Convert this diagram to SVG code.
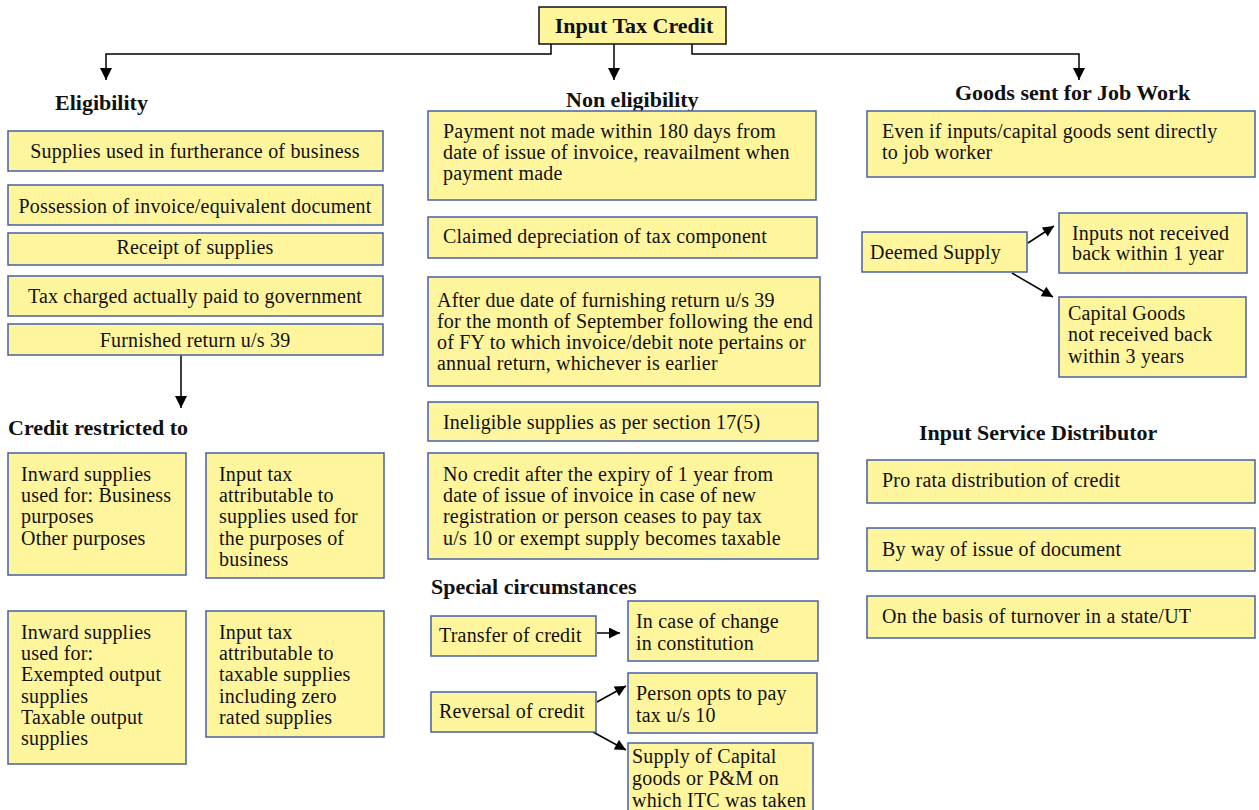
<svg xmlns="http://www.w3.org/2000/svg" width="1259" height="810" viewBox="0 0 1259 810">
  <defs>
    <marker id="arrow" viewBox="0 0 10 10" refX="10" refY="5" markerWidth="13" markerHeight="11" markerUnits="userSpaceOnUse" orient="auto">
      <path d="M0,0 L10,5 L0,10 Z" fill="#000"/>
    </marker>
    <marker id="arrowBig" viewBox="0 0 10 10" refX="10" refY="5" markerWidth="14" markerHeight="12" markerUnits="userSpaceOnUse" orient="auto">
      <path d="M0,0 L10,5 L0,10 Z" fill="#000"/>
    </marker>
  </defs>
  <style>
    .box { fill: #fff59d; stroke: #4660a6; stroke-width: 1.5; }
    .t { font-family: "Liberation Serif", "DejaVu Serif", serif; font-size: 20px; letter-spacing: 0.2px; fill: #111; }
    .c { text-anchor: middle; }
    .h { font-family: "Liberation Serif", "DejaVu Serif", serif; font-size: 22px; font-weight: bold; fill: #111; }
    .ln { fill: none; stroke: #000; stroke-width: 1.5; }
  </style>
  <rect width="1259" height="810" fill="#fff"/>

  <!-- connectors -->
  <g id="connectors">
    <polyline class="ln" points="551,44 551,54 106,54 106,80" marker-end="url(#arrowBig)"/>
    <line class="ln" x1="614" y1="44" x2="614" y2="80" marker-end="url(#arrowBig)"/>
    <polyline class="ln" points="692,44 692,54 1079,54 1079,80" marker-end="url(#arrowBig)"/>
    <line class="ln" x1="181" y1="355" x2="181" y2="408" marker-end="url(#arrowBig)"/>
    <line class="ln" x1="1028" y1="243" x2="1054" y2="226" marker-end="url(#arrow)"/>
    <line class="ln" x1="1012" y1="273" x2="1053" y2="297" marker-end="url(#arrow)"/>
    <line class="ln" x1="597" y1="633" x2="620" y2="633" marker-end="url(#arrow)"/>
    <line class="ln" x1="597" y1="702" x2="626" y2="686" marker-end="url(#arrow)"/>
    <line class="ln" x1="593" y1="732" x2="626" y2="750" marker-end="url(#arrow)"/>
  </g>

  <!-- root -->
  <g id="root">
    <rect x="539" y="7" width="187" height="37" fill="#fff59d" stroke="#111" stroke-width="1.5"/>
    <text class="h c" x="634" y="33">Input Tax Credit</text>
  </g>

  <!-- section headings -->
  <g id="headings">
    <text class="h" x="55" y="110">Eligibility</text>
    <text class="h" x="566" y="107">Non eligibility</text>
    <text class="h" x="955" y="100">Goods sent for Job Work</text>
    <text class="h" x="8" y="435">Credit restricted to</text>
    <text class="h" x="431" y="594">Special circumstances</text>
    <text class="h" x="919" y="440">Input Service Distributor</text>
  </g>

  <!-- eligibility -->
  <g id="elig-1"><rect class="box" x="8" y="131" width="375" height="40"/><text class="t c" x="195" y="158">Supplies used in furtherance of business</text></g>
  <g id="elig-2"><rect class="box" x="8" y="185" width="375" height="40"/><text class="t c" x="195" y="213">Possession of invoice/equivalent document</text></g>
  <g id="elig-3"><rect class="box" x="8" y="233" width="375" height="32"/><text class="t c" x="195" y="254">Receipt of supplies</text></g>
  <g id="elig-4"><rect class="box" x="8" y="276" width="375" height="40"/><text class="t c" x="195" y="303">Tax charged actually paid to government</text></g>
  <g id="elig-5"><rect class="box" x="8" y="324" width="375" height="31"/><text class="t c" x="195" y="347">Furnished return u/s 39</text></g>

  <!-- credit restricted -->
  <g id="restrict-1"><rect class="box" x="8" y="453" width="178" height="122"/>
    <text class="t" x="21" y="481">Inward supplies</text>
    <text class="t" x="21" y="502">used for: Business</text>
    <text class="t" x="21" y="523">purposes</text>
    <text class="t" x="21" y="545">Other purposes</text>
  </g>
  <g id="restrict-2"><rect class="box" x="206" y="453" width="178" height="125"/>
    <text class="t" x="219" y="481">Input tax</text>
    <text class="t" x="219" y="502">attributable to</text>
    <text class="t" x="219" y="523">supplies used for</text>
    <text class="t" x="219" y="545">the purposes of</text>
    <text class="t" x="219" y="566">business</text>
  </g>
  <g id="restrict-3"><rect class="box" x="8" y="611" width="178" height="153"/>
    <text class="t" x="21" y="639">Inward supplies</text>
    <text class="t" x="21" y="660">used for:</text>
    <text class="t" x="21" y="681">Exempted output</text>
    <text class="t" x="21" y="703">supplies</text>
    <text class="t" x="21" y="724">Taxable output</text>
    <text class="t" x="21" y="745">supplies</text>
  </g>
  <g id="restrict-4"><rect class="box" x="206" y="611" width="178" height="126"/>
    <text class="t" x="219" y="639">Input tax</text>
    <text class="t" x="219" y="660">attributable to</text>
    <text class="t" x="219" y="681">taxable supplies</text>
    <text class="t" x="219" y="703">including zero</text>
    <text class="t" x="219" y="724">rated supplies</text>
  </g>

  <!-- non eligibility -->
  <g id="nonelig-1"><rect class="box" x="428" y="111" width="388" height="89"/>
    <text class="t" x="443" y="138">Payment not made within 180 days from</text>
    <text class="t" x="443" y="159">date of issue of invoice, reavailment when</text>
    <text class="t" x="443" y="180">payment made</text>
  </g>
  <g id="nonelig-2"><rect class="box" x="428" y="217" width="389" height="41"/>
    <text class="t" x="443" y="243">Claimed depreciation of tax component</text>
  </g>
  <g id="nonelig-3"><rect class="box" x="428" y="277" width="392" height="109"/>
    <text class="t" x="437" y="307">After due date of furnishing return u/s 39</text>
    <text class="t" x="437" y="328">for the month of September following the end</text>
    <text class="t" x="437" y="349">of FY to which invoice/debit note pertains or</text>
    <text class="t" x="437" y="370">annual return, whichever is earlier</text>
  </g>
  <g id="nonelig-4"><rect class="box" x="428" y="402" width="390" height="39"/>
    <text class="t" x="443" y="429">Ineligible supplies as per section 17(5)</text>
  </g>
  <g id="nonelig-5"><rect class="box" x="428" y="453" width="390" height="106"/>
    <text class="t" x="443" y="481">No credit after the expiry of 1 year from</text>
    <text class="t" x="443" y="502">date of issue of invoice in case of new</text>
    <text class="t" x="443" y="523">registration or person ceases to pay tax</text>
    <text class="t" x="443" y="545">u/s 10 or exempt supply becomes taxable</text>
  </g>

  <!-- special circumstances -->
  <g id="transfer"><rect class="box" x="431" y="616" width="165" height="40"/>
    <text class="t" x="439" y="642">Transfer of credit</text>
  </g>
  <g id="constitution"><rect class="box" x="628" y="601" width="190" height="60"/>
    <text class="t" x="636" y="628">In case of change</text>
    <text class="t" x="636" y="650">in constitution</text>
  </g>
  <g id="reversal"><rect class="box" x="431" y="692" width="165" height="40"/>
    <text class="t" x="439" y="718">Reversal of credit</text>
  </g>
  <g id="opts"><rect class="box" x="628" y="673" width="189" height="60"/>
    <text class="t" x="636" y="700">Person opts to pay</text>
    <text class="t" x="636" y="722">tax u/s 10</text>
  </g>
  <g id="capital-supply"><rect class="box" x="628" y="743" width="185" height="75"/>
    <text class="t" x="632" y="763">Supply of Capital</text>
    <text class="t" x="632" y="785">goods or P&amp;M on</text>
    <text class="t" x="632" y="807">which ITC was taken</text>
  </g>

  <!-- job work -->
  <g id="jobwork-1"><rect class="box" x="867" y="111" width="388" height="66"/>
    <text class="t" x="882" y="138">Even if inputs/capital goods sent directly</text>
    <text class="t" x="882" y="159">to job worker</text>
  </g>
  <g id="deemed"><rect class="box" x="862" y="232" width="165" height="40"/>
    <text class="t" x="870" y="259">Deemed Supply</text>
  </g>
  <g id="inputs-back"><rect class="box" x="1059" y="213" width="188" height="60"/>
    <text class="t" x="1072" y="240">Inputs not received</text>
    <text class="t" x="1072" y="260">back within 1 year</text>
  </g>
  <g id="capital-back"><rect class="box" x="1059" y="297" width="187" height="80"/>
    <text class="t" x="1068" y="320">Capital Goods</text>
    <text class="t" x="1068" y="341">not received back</text>
    <text class="t" x="1068" y="363">within 3 years</text>
  </g>

  <!-- input service distributor -->
  <g id="isd-1"><rect class="box" x="867" y="460" width="388" height="43"/>
    <text class="t" x="882" y="487">Pro rata distribution of credit</text>
  </g>
  <g id="isd-2"><rect class="box" x="867" y="528" width="388" height="43"/>
    <text class="t" x="882" y="556">By way of issue of document</text>
  </g>
  <g id="isd-3"><rect class="box" x="867" y="596" width="388" height="42"/>
    <text class="t" x="882" y="623">On the basis of turnover in a state/UT</text>
  </g>
</svg>
